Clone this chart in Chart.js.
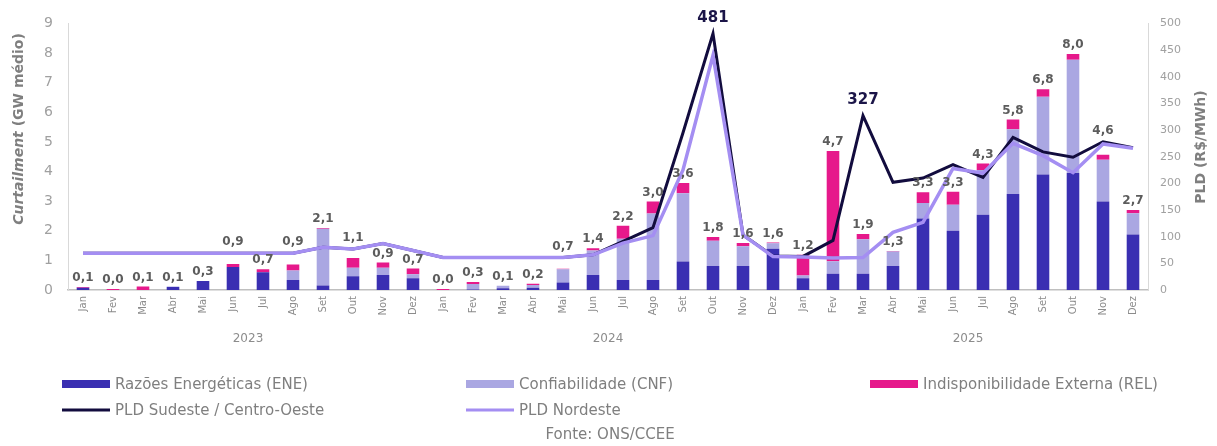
<!DOCTYPE html>
<html>
<head>
<meta charset="utf-8">
<script src="https://cdn.jsdelivr.net/npm/chart.js@4.4.1/dist/chart.umd.min.js"></script>
<style>
  html, body { margin: 0; padding: 0; background: #fff; }
  canvas { display: block; }
</style>
</head>
<body>
<canvas id="curtailmentChart" width="1217" height="446"></canvas>
<script>
// months and years on the x axis
const years = ['2023', '2024', '2025'];
const months = ['Jan', 'Fev', 'Mar', 'Abr', 'Mai', 'Jun', 'Jul', 'Ago', 'Set', 'Out', 'Nov', 'Dez'];

// curtailment by cause (GW médio)
const eneValues = [
  0.08, 0.00, 0.00, 0.10, 0.30, 0.78, 0.60, 0.34, 0.15, 0.46, 0.51, 0.40,
  0.00, 0.02, 0.06, 0.08, 0.25, 0.51, 0.34, 0.34, 0.96, 0.81, 0.81, 1.39,
  0.40, 0.55, 0.55, 0.81, 2.41, 2.00, 2.54, 3.24, 3.90, 3.95, 2.99, 1.87
];
const cnfValues = [
  0.00, 0.00, 0.00, 0.02, 0.00, 0.00, 0.00, 0.32, 1.92, 0.29, 0.24, 0.13,
  0.00, 0.18, 0.08, 0.09, 0.45, 0.82, 1.39, 2.24, 2.31, 0.85, 0.67, 0.19,
  0.09, 0.42, 1.16, 0.49, 0.53, 0.88, 1.51, 2.19, 2.62, 3.82, 1.41, 0.72
];
const relValues = [
  0.02, 0.03, 0.12, 0.00, 0.00, 0.10, 0.10, 0.20, 0.02, 0.33, 0.18, 0.20,
  0.03, 0.07, 0.00, 0.04, 0.02, 0.08, 0.44, 0.41, 0.34, 0.13, 0.11, 0.02,
  0.70, 3.72, 0.18, 0.02, 0.36, 0.44, 0.22, 0.33, 0.26, 0.20, 0.17, 0.11
];

// PLD (R$/MWh)
const pldSudeste = [
  69, 69, 69, 69, 69, 69, 69, 69, 80, 77, 87, 74,
  61, 61, 61, 61, 61, 66, 91, 117, 295, 481, 103, 64,
  63, 93, 327, 202, 210, 235, 211, 286, 259, 249, 278, 267
];
const pldNordeste = [
  69, 69, 69, 69, 69, 69, 69, 69, 80, 77, 87, 74,
  61, 61, 61, 61, 61, 66, 88, 102, 225, 440, 103, 63,
  62, 60, 61, 108, 127, 228, 219, 275, 252, 220, 274, 266
];

const leftTicks = [0, 9, 1];     // min, max, step
const rightTicks = [0, 500, 50];

const labels = years.flatMap(y => months.map(m => m + ' ' + y));

const colors = {
  ene: '#3a2fb2',
  cnf: '#aaa7e2',
  rel: '#e6198b',
  se: '#120c3e',
  ne: '#a48ef2',
  text: '#7f7f7f',
  label: '#5c5c5c'
};

const area = { left: 68, right: 1148, top: 17, bottom: 290 };
const W = 1217, H = 446;

function fmt(v) {
  return (Math.round(v * 10) / 10).toFixed(1).replace('.', ',');
}

// bar totals + PLD peak labels
const labelPlugin = {
  id: 'labelPlugin',
  afterDatasetsDraw(chart) {
    const ctx = chart.ctx;
    const x = chart.scales.x, y = chart.scales.y, y2 = chart.scales.y2;
    const lines = [pldSudeste, pldNordeste];
    ctx.save();
    ctx.textAlign = 'center';
    ctx.textBaseline = 'bottom';
    ctx.font = 'bold 12px "DejaVu Sans"';
    ctx.fillStyle = colors.label;
    for (let i = 0; i < labels.length; i++) {
      const total = eneValues[i] + cnfValues[i] + relValues[i];
      const px = x.getPixelForValue(i);
      let bottom = y.getPixelForValue(total) - 3;
      const h = 11;
      let hitY = null;
      // push the label above a flat PLD line that would cross it
      lines.forEach(vals => {
        const yl = y2.getPixelForValue(vals[i]);
        const prev = i > 0 ? y2.getPixelForValue(vals[i - 1]) : yl;
        const next = i < vals.length - 1 ? y2.getPixelForValue(vals[i + 1]) : yl;
        const steep = Math.max(Math.abs(yl - prev), Math.abs(next - yl)) > 45;
        if (steep) return;
        if (yl + 1.5 > bottom - h + 2 && yl - 1.5 < bottom) {
          hitY = hitY === null ? yl : Math.min(hitY, yl);
        }
      });
      if (hitY !== null) bottom = hitY - 5;
      ctx.fillText(fmt(total), px, bottom);
    }
    ctx.font = 'bold 15px "DejaVu Sans"';
    ctx.fillStyle = '#1b1548';
    pldSudeste.forEach((v, i) => {
      if (v > 300) {
        ctx.fillText(String(v), x.getPixelForValue(i), y2.getPixelForValue(v) - 8);
      }
    });
    ctx.restore();
  }
};

// axis titles, year labels, legend, source
const decorPlugin = {
  id: 'decorPlugin',
  afterDraw(chart) {
    const ctx = chart.ctx;
    const x = chart.scales.x;
    ctx.save();

    // left title: italic "Curtailment" + bold rest
    const partA = 'Curtailment';
    const partB = ' (GW médio)';
    const fontA = 'italic bold 14px "DejaVu Sans"';
    const fontB = 'bold 14px "DejaVu Sans"';
    ctx.font = fontA;
    const wA = ctx.measureText(partA).width;
    ctx.font = fontB;
    const wB = ctx.measureText(partB).width;
    ctx.translate(19, 129);
    ctx.rotate(-Math.PI / 2);
    ctx.fillStyle = colors.text;
    ctx.textBaseline = 'middle';
    ctx.textAlign = 'left';
    ctx.font = fontA;
    ctx.fillText(partA, -(wA + wB) / 2, 0);
    ctx.font = fontB;
    ctx.fillText(partB, -(wA + wB) / 2 + wA, 0);
    ctx.setTransform(1, 0, 0, 1, 0, 0);

    // right title
    ctx.translate(1201, 147);
    ctx.rotate(-Math.PI / 2);
    ctx.textAlign = 'center';
    ctx.font = 'bold 14px "DejaVu Sans"';
    ctx.fillText('PLD (R$/MWh)', 0, 0);
    ctx.setTransform(1, 0, 0, 1, 0, 0);

    // year labels
    ctx.font = '12px "DejaVu Sans"';
    ctx.fillStyle = '#8c8c8c';
    ctx.textAlign = 'center';
    years.forEach((yr, k) => {
      const a = x.getPixelForValue(k * 12);
      const b = x.getPixelForValue(k * 12 + 11);
      ctx.fillText(yr, (a + b) / 2, 339);
    });

    // legend
    const items = [
      { text: 'Razões Energéticas (ENE)', color: colors.ene, kind: 'bar', col: 62, row: 384 },
      { text: 'Confiabilidade (CNF)', color: colors.cnf, kind: 'bar', col: 466, row: 384 },
      { text: 'Indisponibilidade Externa (REL)', color: colors.rel, kind: 'bar', col: 870, row: 384 },
      { text: 'PLD Sudeste / Centro-Oeste', color: colors.se, kind: 'line', col: 62, row: 410 },
      { text: 'PLD Nordeste', color: colors.ne, kind: 'line', col: 466, row: 410 }
    ];
    ctx.font = '15px "DejaVu Sans"';
    ctx.textAlign = 'left';
    items.forEach(it => {
      ctx.fillStyle = it.color;
      const sh = it.kind === 'bar' ? 8 : 3;
      ctx.fillRect(it.col, it.row - sh / 2, 48, sh);
      ctx.fillStyle = colors.text;
      ctx.fillText(it.text, it.col + 53, it.row + 1);
    });
    ctx.textAlign = 'center';
    ctx.fillText('Fonte: ONS/CCEE', 610, 435);
    ctx.restore();
  }
};

const ctx = document.getElementById('curtailmentChart').getContext('2d');

const chartData = {
  labels: labels,
  datasets: [
    {
      type: 'line', label: 'PLD Nordeste', data: pldNordeste, yAxisID: 'y2',
      borderColor: colors.ne, borderWidth: 3.5, pointRadius: 0, tension: 0, order: 1
    },
    {
      type: 'line', label: 'PLD Sudeste / Centro-Oeste', data: pldSudeste, yAxisID: 'y2',
      borderColor: colors.se, borderWidth: 3, pointRadius: 0, tension: 0, order: 2
    },
    {
      label: 'Razões Energéticas (ENE)', data: eneValues, backgroundColor: colors.ene,
      yAxisID: 'y', stack: 'c', order: 3, barPercentage: 0.42, categoryPercentage: 1
    },
    {
      label: 'Confiabilidade (CNF)', data: cnfValues, backgroundColor: colors.cnf,
      yAxisID: 'y', stack: 'c', order: 3, barPercentage: 0.42, categoryPercentage: 1
    },
    {
      label: 'Indisponibilidade Externa (REL)', data: relValues, backgroundColor: colors.rel,
      yAxisID: 'y', stack: 'c', order: 3, barPercentage: 0.42, categoryPercentage: 1
    }
  ]
};

const chart = new Chart(ctx, {
  type: 'bar',
  data: chartData,
  options: {
    responsive: false,
    animation: false,
    devicePixelRatio: 1,
    layout: { padding: { top: area.top, left: 0, right: 0, bottom: 0 } },
    plugins: { legend: { display: false }, tooltip: { enabled: false } },
    scales: {
      x: {
        stacked: true,
        grid: { display: false, drawTicks: false },
        border: { display: true, color: '#bfbfbf', width: 1.5 },
        ticks: {
          autoSkip: false, minRotation: 90, maxRotation: 90, padding: 6,
          color: '#8c8c8c', font: { family: 'DejaVu Sans', size: 10 },
          callback: (v, i) => months[i % 12]
        },
        afterFit: s => { s.height = H - area.bottom; }
      },
      y: {
        stacked: true,
        position: 'left',
        min: leftTicks[0], max: leftTicks[1],
        grid: { display: false, drawTicks: false },
        border: { display: true, color: '#d9d9d9' },
        ticks: {
          stepSize: leftTicks[2], padding: 15,
          color: '#a0a0a0', font: { family: 'DejaVu Sans', size: 14 }
        },
        afterFit: s => { s.width = area.left; }
      },
      y2: {
        position: 'right',
        min: rightTicks[0], max: rightTicks[1],
        grid: { display: false, drawTicks: false },
        border: { display: true, color: '#d9d9d9' },
        ticks: {
          stepSize: rightTicks[2], padding: 12,
          color: '#a0a0a0', font: { family: 'DejaVu Sans', size: 11 }
        },
        afterFit: s => { s.width = W - area.right; }
      }
    }
  },
  plugins: [labelPlugin, decorPlugin]
});
</script>
</body>
</html>
